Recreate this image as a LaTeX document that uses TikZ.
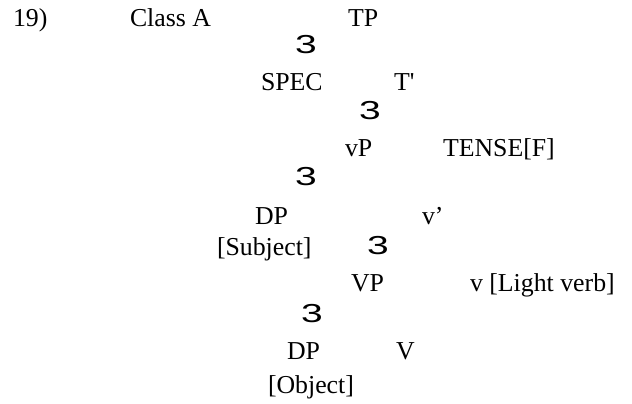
\documentclass[tikz,border=0pt]{standalone}
\usepackage{fontspec}
\newfontfamily\tfont{Liberation Serif}
\newfontfamily\bfont{Liberation Sans}
\begin{document}
\begin{tikzpicture}[x=1pt,y=-1pt,
  lbl/.style={anchor=base west,inner sep=0pt,outer sep=0pt,font=\tfont\fontsize{25.8}{30}\selectfont},
  brn/.style={anchor=center,inner sep=0pt,outer sep=0pt,xscale=1.5,font=\bfont\fontsize{26}{30}\selectfont}]
\useasboundingbox (0,0) rectangle (632,404);
\node[lbl] (num) at (13,27) {19)};
\node[lbl] (cls) at (130,27) {Class A};
\node[lbl] (tp) at (348,27) {TP};
\node[brn] (b1) at (306,45) {3};
\node[lbl] (spec) at (261,90) {SPEC};
\node[lbl] (tbar) at (394,90) {T'};
\node[brn] (b2) at (370,110.5) {3};
\node[lbl] (vp) at (345,156) {vP};
\node[lbl] (tense) at (443,156) {TENSE[F]};
\node[brn] (b3) at (306,177) {3};
\node[lbl] (dp1) at (255,224) {DP};
\node[lbl] (vbar) at (422,224) {v’};
\node[lbl] (subj) at (217,255) {[Subject]};
\node[brn] (b4) at (378,246) {3};
\node[lbl] (VP) at (351,291) {VP};
\node[lbl] (light) at (470,291) {v [Light verb]};
\node[brn] (b5) at (312,314) {3};
\node[lbl] (dp2) at (287,359) {DP};
\node[lbl] (V) at (396,359) {V};
\node[lbl] (obj) at (268,393) {[Object]};
\end{tikzpicture}
\end{document}
